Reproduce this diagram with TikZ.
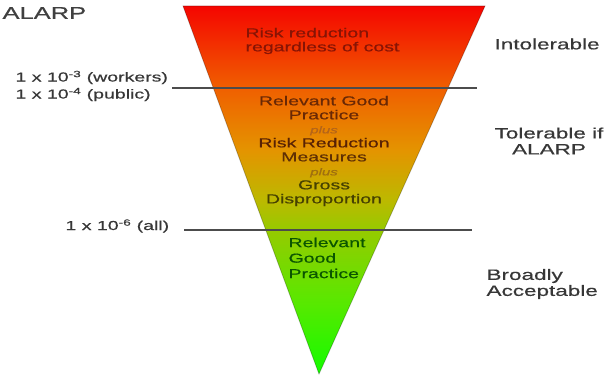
\documentclass[tikz,border=0pt]{standalone}
\usepackage{fontspec}
\setmainfont{Liberation Sans}[FakeStretch=1.5,FakeBold=0.6]
\usepackage{tikz}
\usepackage{xcolor}

\definecolor{topred}{RGB}{245,5,0}
\definecolor{limitorange}{RGB}{240,95,0}
\definecolor{midorange}{RGB}{228,148,0}
\definecolor{midolive}{RGB}{188,185,0}
\definecolor{limitlime}{RGB}{150,202,0}
\definecolor{lowlime}{RGB}{90,232,0}
\definecolor{tipgreen}{RGB}{20,252,0}
\definecolor{redtext}{RGB}{135,20,5}
\definecolor{browntext}{RGB}{105,40,5}
\definecolor{plustext}{RGB}{180,100,25}
\definecolor{olivetext}{RGB}{70,65,0}
\definecolor{greentext}{RGB}{10,85,0}
\definecolor{labelgray}{RGB}{55,55,55}

\pgfdeclareverticalshading{alarpfade}{100bp}{color(0bp)=(tipgreen); color(25bp)=(tipgreen);
  color(35bp)=(lowlime); color(44.6bp)=(limitlime); color(48.6bp)=(midolive);
  color(55.4bp)=(midorange); color(63.9bp)=(limitorange); color(75bp)=(topred);
  color(100bp)=(topred)}

\begin{document}
\begin{tikzpicture}[x=1pt,y=-1pt,
    limitline/.style={draw=black!70,line width=1.8},
    sidelabel/.style={text=labelgray,font=\fontsize{15}{16}\selectfont},
    leftlabel/.style={text=labelgray,font=\fontsize{13}{17}\selectfont,anchor=west,align=left},
    bandtext/.style={font=\fontsize{13}{14}\selectfont}]

    \useasboundingbox (0,0) rectangle (612,379);

    \shadedraw[shading=alarpfade,draw=black,draw opacity=0.25,line width=0.8]
    (183,6) -- (485,6) -- (319,374) -- cycle;

    \coordinate (upperL) at (172,88);
    \coordinate (upperR) at (477,88);
    \coordinate (lowerL) at (184,230);
    \coordinate (lowerR) at (472,230);

    \draw[limitline] (upperL) -- (upperR);
    \draw[limitline] (lowerL) -- (lowerR);



    \node[anchor=west,text=black!75,font=\fontsize{17}{18}\selectfont] (title) at (-1,13) {ALARP};

    \node[leftlabel] (workers) at (12,86)
    {1 x 10\textsuperscript{-3} (workers)\\1 x 10\textsuperscript{-4} (public)};

    \node[leftlabel] (all) at (62,226) {1 x 10\textsuperscript{-6} (all)};



    \node[bandtext,anchor=west,align=left,text=redtext] (intolband) at (242,41)
    {Risk reduction\\regardless of cost};

    \node[bandtext,align=center] (alarpband) at (324,151)
    {\textcolor{browntext}{Relevant Good}\\
      \textcolor{browntext}{Practice}\\
      \textcolor{plustext}{\fontsize{10}{14}\selectfont\itshape plus}\\
      \textcolor{browntext!85!black}{Risk Reduction}\\
      \textcolor{browntext!70!olivetext}{Measures}\\
      \textcolor{plustext!60!olive}{\fontsize{10}{14}\selectfont\itshape plus}\\
      \textcolor{olivetext}{Gross}\\
      \textcolor{olivetext}{Disproportion}};

    \node[bandtext,anchor=west,align=left,text=greentext,
    font=\fontsize{13}{15.5}\selectfont] (broadband) at (285,258)
    {Relevant\\Good\\Practice};



    \node[sidelabel,anchor=west] (intol) at (491,44) {Intolerable};

    \node[sidelabel,align=center] (tolerable) at (549,141) {Tolerable if\\ALARP};

    \node[sidelabel,anchor=west,align=left] (broadly) at (483,284) {Broadly\\Acceptable};

  \end{tikzpicture}
\end{document}
